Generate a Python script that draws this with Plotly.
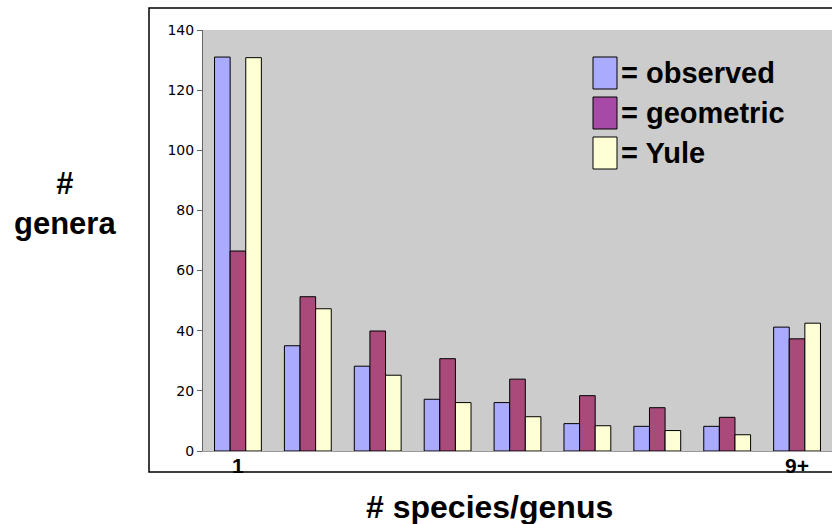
import plotly.graph_objects as go

categories = ["1", "2", "3", "4", "5", "6", "7", "8", "9+"]
observed = [131, 35, 28.2, 17.2, 16.1, 9.1, 8.2, 8.2, 41.2]
geometric = [66.5, 51.3, 39.9, 30.7, 23.9, 18.4, 14.4, 11.2, 37.3]
yule = [130.8, 47.3, 25.2, 16.1, 11.4, 8.4, 6.8, 5.4, 42.5]
tick_labels = ["1", "9+"]
y_ticks = [0, 20, 40, 60, 80, 100, 120, 140]

series = [
    ("observed", observed, "#AAAAFF", "#AAAAFF"),
    ("geometric", geometric, "#A94A7A", "#A74AA7"),
    ("Yule", yule, "#FFFFD5", "#FFFFD5"),
]

fig = go.Figure()
for name, vals, col, _ in series:
    fig.add_trace(go.Bar(
        x=categories, y=vals, name=name,
        marker=dict(color=col, line=dict(color="#000000", width=1)),
        showlegend=False,
    ))

L, T, B, W, H = 203, 30, 73, 832, 524
pw = W - L
ph = H - T - B

shapes = [
    dict(type="rect", xref="paper", yref="paper",
         x0=(149 - L) / pw, x1=1.05, y0=-(472 - (T + ph)) / ph, y1=(T + ph - 8) / ph,
         line=dict(color="black", width=1.5), fillcolor="rgba(0,0,0,0)", layer="below"),
]
annotations = []
# manual legend
for i, (name, vals, _, lcol) in enumerate(series):
    yc = 73 + 40 * i
    shapes.append(dict(type="rect", xref="paper", yref="paper",
                       x0=(593 - L) / pw, x1=(617 - L) / pw,
                       y0=(T + ph - (yc + 16)) / ph, y1=(T + ph - (yc - 16)) / ph,
                       fillcolor=lcol, line=dict(color="black", width=1)))
    annotations.append(dict(xref="paper", yref="paper", x=(619 - L) / pw, y=(T + ph - yc) / ph,
                            text="<b>= " + name + "</b>", showarrow=False, xanchor="left", yanchor="middle",
                            font=dict(family="Liberation Sans", size=29, color="black")))

annotations.append(dict(xref="paper", yref="paper", x=(489 - L) / pw, y=(T + ph - 507) / ph,
                        text="<b># species/genus</b>", showarrow=False, xanchor="center", yanchor="middle",
                        font=dict(family="Liberation Sans", size=32, color="black")))
annotations.append(dict(xref="paper", yref="paper", x=(65 - L) / pw, y=(T + ph - 203) / ph,
                        text="<b>#<br>genera</b>", showarrow=False, xanchor="center", yanchor="middle",
                        font=dict(family="Liberation Sans", size=31, color="black")))

fig.update_layout(
    width=W, height=H,
    margin=dict(l=L, r=0, t=T, b=B),
    paper_bgcolor="white", plot_bgcolor="#CCCCCC",
    barmode="group", bargap=0.33, bargroupgap=0,
    shapes=shapes, annotations=annotations,
    xaxis=dict(tickmode="array", tickvals=tick_labels, ticktext=["<b>1</b>", "<b>9+</b>"],
               showline=True, linecolor="#999999", linewidth=1, ticks="",
               ticklabelstandoff=-4,
               tickfont=dict(family="Liberation Sans", size=21, color="black"),
               showgrid=False, fixedrange=True),
    yaxis=dict(range=[0, 140], tickvals=y_ticks, showline=True, linecolor="#666666", linewidth=1,
               ticks="outside", ticklen=5, tickcolor="#666666",
               tickfont=dict(family="DejaVu Sans", size=14, color="black"),
               showgrid=False, zeroline=False, fixedrange=True),
    font=dict(family="Liberation Sans"),
)

fig.write_html("out.html")
